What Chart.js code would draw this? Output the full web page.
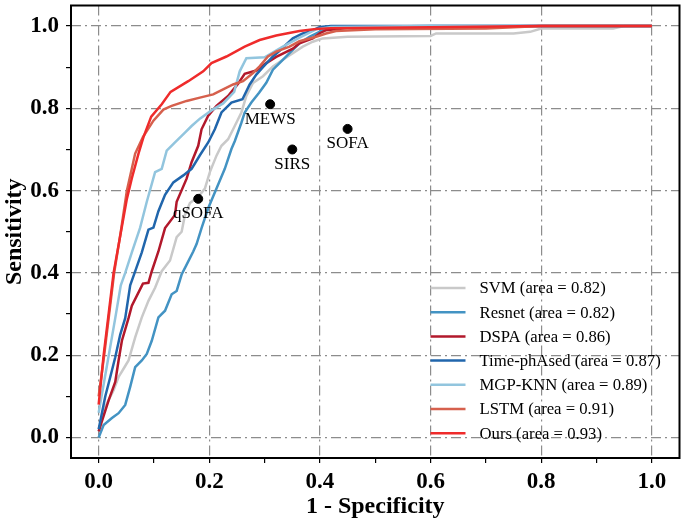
<!DOCTYPE html>
<html lang="en">
<head>
<meta charset="UTF-8">
<title>ROC curves</title>
<script src="https://cdn.jsdelivr.net/npm/chart.js"></script>
<style>
    body {
      margin: 0;
      background: #fff;
    }
    canvas {
      display: block;
    }
</style>
</head>
<body>
<canvas id="rocChart" width="685" height="521"></canvas>

<script>
    // ROC curves (x = 1 - specificity, y = sensitivity)
    const svmFpr = [0, 0.012, 0.027, 0.036, 0.045, 0.054, 0.066, 0.078, 0.09, 0.102, 0.114, 0.129, 0.141, 0.15, 0.156, 0.165, 0.18, 0.192, 0.201, 0.213, 0.222, 0.234, 0.246, 0.258, 0.267, 0.279, 0.297, 0.315, 0.333, 0.351, 0.369, 0.387, 0.405, 0.45, 0.6, 0.61, 0.75, 0.78, 0.8, 0.93, 0.95, 1];
    const svmTpr = [0.015, 0.075, 0.115, 0.147, 0.167, 0.187, 0.243, 0.292, 0.332, 0.364, 0.404, 0.43, 0.487, 0.5, 0.541, 0.57, 0.585, 0.605, 0.645, 0.685, 0.709, 0.725, 0.757, 0.79, 0.83, 0.862, 0.878, 0.902, 0.918, 0.934, 0.95, 0.962, 0.97, 0.974, 0.976, 0.982, 0.982, 0.986, 0.994, 0.994, 1, 1];

    const resnetFpr = [0, 0.009, 0.024, 0.036, 0.048, 0.057, 0.066, 0.078, 0.087, 0.096, 0.108, 0.12, 0.132, 0.141, 0.15, 0.162, 0.171, 0.177, 0.186, 0.198, 0.213, 0.228, 0.24, 0.246, 0.258, 0.264, 0.276, 0.29, 0.303, 0.315, 0.327, 0.345, 0.363, 0.381, 0.399, 0.411, 0.45, 0.6, 1];
    const resnetTpr = [0, 0.03, 0.047, 0.059, 0.079, 0.123, 0.171, 0.187, 0.203, 0.235, 0.292, 0.308, 0.348, 0.356, 0.396, 0.428, 0.452, 0.47, 0.509, 0.557, 0.605, 0.653, 0.701, 0.72, 0.765, 0.79, 0.814, 0.838, 0.862, 0.894, 0.91, 0.934, 0.958, 0.974, 0.986, 0.994, 0.998, 1, 1];

    const dspaFpr = [0, 0.018, 0.03, 0.036, 0.042, 0.054, 0.06, 0.08, 0.09, 0.096, 0.105, 0.108, 0.12, 0.138, 0.141, 0.159, 0.168, 0.18, 0.186, 0.198, 0.213, 0.234, 0.252, 0.264, 0.285, 0.303, 0.321, 0.351, 0.363, 0.387, 0.399, 0.411, 0.45, 0.6, 0.8, 1];
    const dspaTpr = [0.015, 0.09, 0.135, 0.187, 0.235, 0.29, 0.32, 0.374, 0.376, 0.404, 0.44, 0.452, 0.509, 0.541, 0.573, 0.629, 0.669, 0.709, 0.749, 0.782, 0.806, 0.83, 0.86, 0.884, 0.892, 0.91, 0.925, 0.945, 0.958, 0.97, 0.982, 0.99, 0.995, 0.998, 1, 1];

    const timeFpr = [0, 0.012, 0.021, 0.03, 0.039, 0.048, 0.057, 0.065, 0.078, 0.09, 0.099, 0.108, 0.12, 0.135, 0.153, 0.168, 0.183, 0.198, 0.21, 0.222, 0.24, 0.26, 0.273, 0.285, 0.297, 0.315, 0.327, 0.351, 0.369, 0.381, 0.4, 0.42, 1];
    const timeTpr = [0.02, 0.1, 0.147, 0.195, 0.25, 0.29, 0.37, 0.4, 0.45, 0.505, 0.51, 0.55, 0.59, 0.62, 0.637, 0.653, 0.686, 0.717, 0.749, 0.79, 0.814, 0.822, 0.858, 0.882, 0.9, 0.926, 0.94, 0.97, 0.982, 0.986, 0.998, 1, 1];

    const mgpFpr = [0, 0.017, 0.03, 0.04, 0.048, 0.06, 0.075, 0.087, 0.102, 0.114, 0.123, 0.138, 0.156, 0.168, 0.183, 0.204, 0.225, 0.245, 0.255, 0.267, 0.3, 0.333, 0.363, 0.393, 0.42, 0.6, 1];
    const mgpTpr = [0.06, 0.19, 0.29, 0.37, 0.4, 0.45, 0.51, 0.573, 0.645, 0.653, 0.697, 0.717, 0.741, 0.757, 0.775, 0.795, 0.812, 0.84, 0.89, 0.922, 0.924, 0.95, 0.972, 0.992, 0.998, 1, 1];

    const lstmFpr = [0, 0.01, 0.028, 0.04, 0.051, 0.066, 0.08, 0.099, 0.117, 0.132, 0.159, 0.183, 0.207, 0.225, 0.243, 0.261, 0.279, 0.291, 0.306, 0.321, 0.345, 0.363, 0.393, 0.411, 0.429, 0.5, 0.7, 0.8, 1];
    const lstmTpr = [0.1, 0.2, 0.4, 0.5, 0.6, 0.69, 0.73, 0.77, 0.797, 0.806, 0.818, 0.826, 0.834, 0.846, 0.858, 0.866, 0.886, 0.902, 0.926, 0.938, 0.95, 0.963, 0.974, 0.982, 0.988, 0.992, 0.994, 1, 1];

    const oursFpr = [0, 0.009, 0.027, 0.039, 0.051, 0.06, 0.072, 0.081, 0.095, 0.114, 0.13, 0.162, 0.189, 0.204, 0.231, 0.264, 0.291, 0.321, 0.363, 0.393, 0.42, 0.6, 0.8, 1];
    const oursTpr = [0.08, 0.2, 0.4, 0.49, 0.58, 0.63, 0.69, 0.73, 0.78, 0.81, 0.84, 0.866, 0.89, 0.91, 0.926, 0.95, 0.966, 0.977, 0.988, 0.993, 0.995, 0.997, 1, 1];

    const modelNames = ['SVM', 'Resnet', 'DSPA', 'Time-phAsed', 'MGP-KNN', 'LSTM', 'Ours'];
    const modelAuc = [0.82, 0.82, 0.86, 0.87, 0.89, 0.91, 0.93];
    const modelColors = ['#c9c9c9', '#4393c3', '#b2182b', '#2166ac', '#92c5de', '#d6604d', '#ef2b2b'];
    const curvesFpr = [svmFpr, resnetFpr, dspaFpr, timeFpr, mgpFpr, lstmFpr, oursFpr];
    const curvesTpr = [svmTpr, resnetTpr, dspaTpr, timeTpr, mgpTpr, lstmTpr, oursTpr];

    // clinical scores shown as single points
    const scoreNames = ['MEWS', 'SIRS', 'SOFA', 'qSOFA'];
    const scoreFpr = [0.31, 0.35, 0.45, 0.18];
    const scoreTpr = [0.81, 0.70, 0.75, 0.58];

    const majorTicks = [0, 0.2, 0.4, 0.6, 0.8, 1.0];
    const allTicks = [0, 0.1, 0.2, 0.3, 0.4, 0.5, 0.6, 0.7, 0.8, 0.9, 1.0];

    const serif = '"Liberation Serif", "Times New Roman", serif';

    const datasets = modelNames.map((name, i) => ({
      label: `${name} (area = ${modelAuc[i].toFixed(2)})`,
      data: curvesFpr[i].map((x, j) => ({ x: x, y: curvesTpr[i][j] })),
      borderColor: modelColors[i],
      backgroundColor: modelColors[i],
      borderWidth: 2.5,
      showLine: true,
      pointRadius: 0,
      tension: 0,
      order: modelNames.length - i
    }));

    datasets.push({
      label: 'scores',
      data: scoreFpr.map((x, i) => ({ x: x, y: scoreTpr[i] })),
      backgroundColor: '#000',
      borderColor: '#000',
      pointRadius: 4.5,
      showLine: false,
      order: -1
    });

    const isMajor = (v) => majorTicks.some(m => Math.abs(m - v) < 1e-6);

    const axisOpts = (title) => ({
      type: 'linear',
      min: -0.05,
      max: 1.05,
      afterBuildTicks: (scale) => {
        scale.ticks = allTicks.map(v => ({ value: v }));
      },
      ticks: {
        autoSkip: false,
        maxRotation: 0,
        color: '#000',
        padding: 5,
        font: { family: serif, size: 23, weight: 'bold' },
        callback: (v) => isMajor(v) ? v.toFixed(1) : ''
      },
      grid: {
        color: (ctx) => (ctx.tick && isMajor(ctx.tick.value)) ? '#8c8c8c' : 'rgba(0,0,0,0)',
        lineWidth: 1.2,
        tickColor: '#000',
        tickLength: 5,
        tickWidth: 1.2
      },
      border: { display: false, dash: [10, 4, 2, 4] },
      title: {
        display: true,
        text: title,
        color: '#000',
        padding: 0,
        font: { family: serif, size: 24, weight: 'bold' }
      }
    });

    // fixed axis sizes so the plot box fills the canvas like the original
    const xAxis = axisOpts('1 - Specificity');
    xAxis.afterFit = (scale) => {
      scale.height = 63;
      scale.paddingLeft = 0;
      scale.paddingRight = 0;
    };
    const yAxis = axisOpts('Sensitivity');
    yAxis.afterFit = (scale) => {
      scale.width = 71;
      scale.paddingTop = 0;
      scale.paddingBottom = 0;
    };
    yAxis.ticks.padding = 7;

    // frame, point labels and the legend inside the plot
    const decorations = {
      id: 'decorations',
      afterDraw(chart) {
        const ctx = chart.ctx;
        const area = chart.chartArea;
        const xs = chart.scales.x;
        const ys = chart.scales.y;

        ctx.save();
        ctx.strokeStyle = '#000';
        ctx.lineWidth = 2;
        ctx.strokeRect(area.left, area.top, area.right - area.left, area.bottom - area.top);

        ctx.fillStyle = '#000';
        ctx.font = `17px ${serif}`;
        ctx.textAlign = 'center';
        ctx.textBaseline = 'middle';
        scoreNames.forEach((name, i) => {
          ctx.fillText(name, xs.getPixelForValue(scoreFpr[i]), ys.getPixelForValue(scoreTpr[i]) + 15);
        });

        const lineX = area.right - 249;
        const textX = lineX + 49;
        const firstY = area.bottom - 170;
        const rowH = 24.2;
        ctx.font = `16.7px ${serif}`;
        ctx.textAlign = 'left';
        modelNames.forEach((name, i) => {
          const y = firstY + i * rowH;
          ctx.strokeStyle = modelColors[i];
          ctx.lineWidth = 2.5;
          ctx.beginPath();
          ctx.moveTo(lineX, y);
          ctx.lineTo(lineX + 35, y);
          ctx.stroke();
          ctx.fillStyle = '#000';
          ctx.fillText(chart.data.datasets[i].label, textX, y + 1);
        });
        ctx.restore();
      }
    };

    new Chart(document.getElementById('rocChart').getContext('2d'), {
      type: 'scatter',
      data: { datasets: datasets },
      options: {
        responsive: false,
        animation: false,
        layout: { padding: { top: 1, right: 1, left: 0, bottom: 0 } },
        scales: { x: xAxis, y: yAxis },
        plugins: {
          legend: { display: false },
          tooltip: { enabled: false }
        }
      },
      plugins: [decorations]
    });
</script>
</body>
</html>
